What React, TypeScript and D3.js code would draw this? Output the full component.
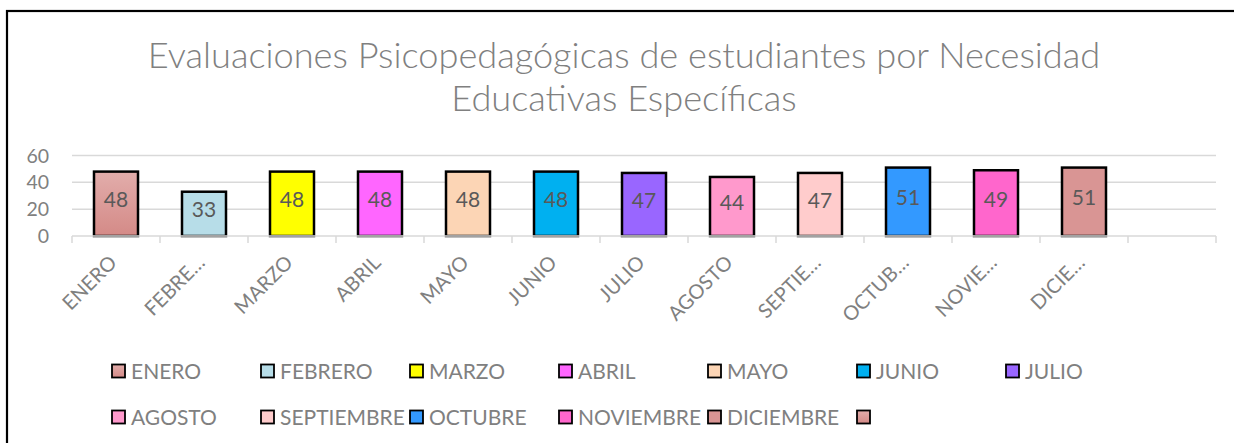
import React from "react";
import * as d3 from "d3";

const categories = ["ENERO","FEBRERO","MARZO","ABRIL","MAYO","JUNIO","JULIO","AGOSTO","SEPTIEMBRE","OCTUBRE","NOVIEMBRE","DICIEMBRE"];
const tickLabels = ["ENERO","FEBRE…","MARZO","ABRIL","MAYO","JUNIO","JULIO","AGOSTO","SEPTIE…","OCTUB…","NOVIE…","DICIE…"];
const values = [48,33,48,48,48,48,47,44,47,51,49,51];
const colors = ["url(#gradEnero)","#b7dde8","#ffff00","#ff66ff","#fcd5b5","#00b0f0","#9966ff","#ff99cc","#ffcccc","#3399ff","#ff66cc","#d99594"];
const legendLabels = [...categories, ""];
const legendColors = [...colors, "url(#gradEnero)"];
const yTicks = [0,20,40,60];
const titleLines = ["Evaluaciones Psicopedagógicas de estudiantes por Necesidad","Educativas Específicas"];

const W = 1234, H = 443;
const FONT = "Lato, 'Open Sans', sans-serif";
const GRAY = "#808080";

export default function App() {
  const domain = [...categories, "__blank__"];
  const x = d3.scaleBand<string>().domain(domain).range([72, 1216]).paddingInner(0.5).paddingOuter(0.25);
  const y = d3.scaleLinear().domain([0, 60]).range([236, 155.5]);
  const step = x.step();
  const boundaries = d3.range(domain.length + 1).map(i => 72 + i * step);

  const legendCols = 7;
  const legendX0 = 112, legendDX = 149, legendY0 = 371, legendDY = 46;

  return (
    <svg width={W} height={H} style={{ position: "absolute", left: 0, top: 0, background: "#fff" }} fontFamily={FONT}>
      <defs>
        <linearGradient id="gradEnero" x1="0" y1="0" x2="0" y2="1">
          <stop offset="0" stopColor="#e2adab" />
          <stop offset="1" stopColor="#d48a87" />
        </linearGradient>
      </defs>
      <rect x={7} y={11} width={1260} height={460} fill="#fff" stroke="#000" strokeWidth={2.2} />
      {titleLines.map((t, i) => (
        <text key={i} x={624} y={68 + i * 43} textAnchor="middle" fontSize={36.2} fontWeight={300} fill={GRAY}>{t}</text>
      ))}
      {yTicks.filter(v => v > 0).map(v => (
        <line key={v} x1={72} x2={1216} y1={y(v)} y2={y(v)} stroke="#d9d9d9" strokeWidth={1.5} />
      ))}
      {yTicks.map(v => (
        <text key={v} x={49} y={y(v)} dy="0.36em" textAnchor="end" fontSize={19.5} fill={GRAY}>{v}</text>
      ))}
      {categories.map((c, i) => (
        <rect key={c} x={x(c)!} y={y(values[i])} width={x.bandwidth()} height={y(0) - y(values[i])}
          fill={colors[i]} stroke="#000" strokeWidth={2.5} />
      ))}
      <line x1={72} x2={1216} y1={236} y2={236} stroke="#d9d9d9" strokeWidth={1.5} />
      {boundaries.map((b, i) => (
        <line key={i} x1={b} x2={b} y1={236} y2={243} stroke="#d9d9d9" strokeWidth={1.5} />
      ))}
      {categories.map((c, i) => (
        <text key={c} x={x(c)! + x.bandwidth() / 2} y={(y(values[i]) + y(0)) / 2 - 4} dy="0.36em"
          textAnchor="middle" fontSize={21} fill="#595959">{values[i]}</text>
      ))}
      {categories.map((c, i) => {
        const cx = x(c)! + x.bandwidth() / 2 + 2;
        const cy = 264;
        return (
          <text key={c} x={cx} y={cy} textAnchor="end" fontSize={20} fill={GRAY}
            transform={`rotate(-45 ${cx} ${cy})`}>{tickLabels[i]}</text>
        );
      })}
      {legendLabels.map((l, i) => {
        const col = i % legendCols, row = Math.floor(i / legendCols);
        const lx = legendX0 + col * legendDX, ly = legendY0 + row * legendDY;
        return (
          <g key={i}>
            <rect x={lx} y={ly - 6.5} width={13} height={13} fill={legendColors[i]} stroke="#000" strokeWidth={1.8} />
            <text x={lx + 19} y={ly} dy="0.36em" fontSize={21} fill={GRAY}>{l}</text>
          </g>
        );
      })}
    </svg>
  );
}
